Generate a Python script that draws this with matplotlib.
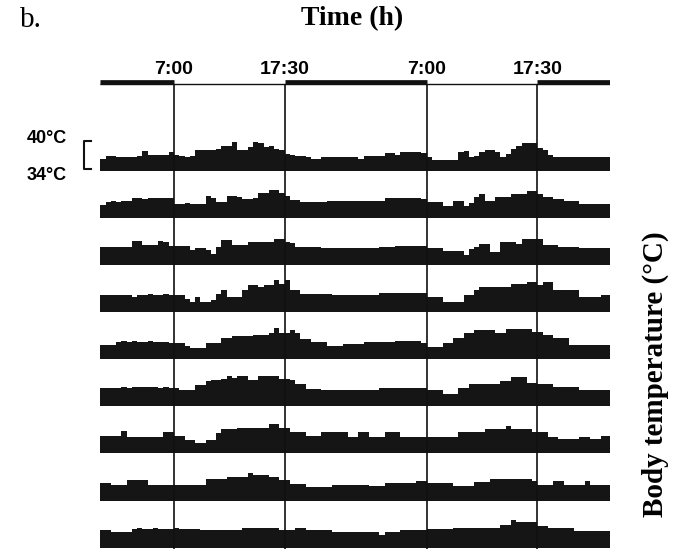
import numpy as np
import matplotlib
matplotlib.use("Agg")
import matplotlib.pyplot as plt

# half-hour mean body temperature (deg C), 96 bins over 48 h, one list per day
day1 = [36.1, 36.7, 36.7, 36.4, 36.4, 36.5, 36.4, 36.7, 37.7, 37.0, 37.0, 37.0,
        37.0, 37.6, 37.0, 36.7, 36.4, 36.7, 37.9, 38.1, 38.1, 38.1, 38.3, 38.9,
        38.9, 39.7, 38.1, 38.1, 38.6, 39.7, 39.4, 38.6, 38.9, 38.3, 37.9, 37.2,
        36.9, 36.7, 36.7, 36.5, 36.1, 36.1, 36.6, 36.6, 36.6, 36.6, 36.6, 36.5,
        36.5, 36.1, 36.7, 36.7, 36.7, 36.7, 37.4, 37.4, 36.9, 37.6, 37.6, 37.6,
        37.6, 37.4, 36.4, 35.9, 35.9, 35.9, 35.8, 35.8, 37.6, 37.7, 36.5, 36.7,
        37.6, 37.9, 37.9, 37.6, 36.5, 37.2, 38.3, 38.9, 39.4, 39.4, 39.4, 38.4,
        37.9, 36.9, 36.5, 36.4, 36.5, 36.4, 36.5, 36.5, 36.4, 36.5, 36.5, 36.5]
day2 = [36.4, 36.9, 37.1, 37.0, 37.2, 37.1, 37.9, 37.9, 37.6, 37.9, 37.9, 37.9,
        37.9, 37.9, 36.6, 36.6, 36.7, 36.6, 36.5, 36.6, 38.2, 37.9, 36.9, 36.9,
        38.2, 38.2, 38.0, 37.6, 37.6, 37.9, 38.9, 38.9, 39.5, 39.5, 38.9, 38.2,
        37.4, 37.4, 36.9, 36.9, 36.9, 36.9, 36.9, 37.1, 37.1, 37.1, 37.1, 37.1,
        37.2, 37.2, 37.2, 37.2, 37.2, 37.2, 37.9, 37.8, 37.9, 37.9, 37.8, 37.9,
        37.9, 37.6, 36.9, 36.9, 36.9, 36.1, 36.1, 37.1, 37.1, 36.1, 36.8, 38.1,
        38.6, 37.1, 37.1, 38.1, 38.1, 38.1, 38.6, 38.6, 38.6, 39.3, 39.3, 38.6,
        38.1, 38.1, 37.5, 37.5, 37.1, 37.1, 37.1, 36.6, 36.6, 36.6, 36.6, 36.6]
day3 = [37.3, 37.4, 37.4, 37.3, 37.4, 37.4, 38.6, 38.6, 37.8, 37.8, 37.8, 38.6,
        38.4, 37.7, 37.7, 37.7, 37.7, 36.7, 37.2, 37.2, 36.7, 35.8, 37.4, 38.9,
        38.9, 37.8, 37.8, 37.8, 38.5, 38.5, 38.5, 38.5, 38.5, 39.2, 39.2, 38.5,
        38.3, 37.4, 37.4, 37.4, 37.4, 37.4, 37.2, 37.2, 37.2, 37.2, 37.2, 37.2,
        37.2, 37.2, 37.2, 37.2, 37.2, 37.4, 37.4, 37.4, 37.6, 37.6, 37.6, 37.6,
        37.6, 37.6, 37.1, 37.1, 37.1, 36.5, 36.5, 36.5, 36.5, 35.7, 37.0, 37.4,
        38.1, 38.1, 36.4, 36.4, 38.5, 38.5, 38.5, 38.1, 39.1, 39.1, 39.1, 39.1,
        37.9, 37.9, 37.9, 37.4, 37.4, 37.4, 37.4, 37.1, 37.1, 37.1, 37.1, 37.1]
day4 = [37.1, 37.1, 37.1, 37.2, 37.2, 37.1, 36.8, 37.2, 37.2, 37.3, 37.2, 37.2,
        37.3, 37.2, 37.2, 37.2, 36.4, 35.7, 36.8, 35.7, 35.7, 36.2, 37.5, 38.2,
        36.8, 36.8, 36.8, 38.2, 39.3, 39.3, 38.8, 39.3, 39.3, 40.4, 39.6, 40.4,
        38.2, 38.2, 37.5, 37.5, 37.5, 37.5, 37.5, 37.5, 37.1, 37.1, 37.1, 37.1,
        37.1, 37.1, 37.1, 37.1, 37.1, 37.7, 37.7, 37.7, 37.7, 37.7, 37.7, 37.7,
        37.7, 37.7, 36.8, 36.8, 36.8, 35.7, 35.7, 35.7, 35.7, 37.1, 37.1, 38.2,
        38.9, 38.9, 38.9, 38.9, 38.9, 38.9, 39.6, 39.6, 39.6, 40.0, 40.0, 39.3,
        40.0, 40.0, 38.2, 38.2, 38.2, 38.2, 38.2, 36.8, 36.8, 36.8, 36.8, 37.1]
day5 = [36.6, 36.6, 36.6, 37.3, 37.5, 37.3, 37.4, 37.3, 37.3, 37.5, 37.3, 37.3,
        37.3, 36.9, 36.9, 36.9, 36.4, 36.0, 35.9, 35.9, 36.9, 36.9, 36.9, 38.0,
        38.0, 38.4, 38.4, 38.4, 38.4, 38.7, 38.7, 38.7, 39.2, 40.1, 39.2, 39.2,
        39.8, 39.1, 37.8, 37.8, 37.1, 37.1, 37.1, 36.4, 36.4, 36.4, 36.8, 36.8,
        36.8, 36.8, 37.3, 37.3, 37.3, 37.3, 37.3, 37.3, 37.5, 37.5, 37.5, 37.5,
        37.5, 36.9, 36.2, 36.2, 36.2, 36.9, 36.9, 38.0, 38.0, 39.1, 39.1, 39.8,
        39.8, 39.8, 39.8, 39.1, 39.1, 39.9, 39.9, 39.9, 39.9, 39.9, 39.4, 39.4,
        38.7, 38.7, 38.0, 38.0, 38.0, 36.6, 36.6, 36.6, 36.6, 36.6, 36.6, 36.6]
day6 = [37.4, 37.4, 37.4, 37.4, 37.6, 37.5, 37.6, 37.6, 37.7, 37.6, 37.6, 37.5,
        37.6, 37.4, 37.4, 37.1, 37.1, 37.1, 38.0, 38.0, 39.0, 39.2, 39.2, 39.4,
        39.9, 39.6, 39.9, 39.9, 39.2, 39.2, 39.9, 39.9, 39.9, 39.9, 39.4, 39.4,
        39.2, 38.3, 38.3, 37.3, 37.3, 37.3, 37.1, 37.1, 37.1, 37.1, 37.1, 37.1,
        37.1, 37.1, 37.1, 37.1, 37.1, 37.4, 37.4, 37.4, 37.4, 37.4, 37.4, 37.4,
        37.4, 37.4, 37.1, 37.1, 37.1, 36.2, 36.2, 36.2, 37.4, 37.4, 38.3, 38.3,
        38.3, 38.3, 38.3, 38.3, 39.0, 39.0, 39.7, 39.7, 39.7, 38.6, 38.6, 38.3,
        38.3, 38.3, 37.6, 37.6, 37.6, 37.6, 37.6, 37.1, 37.1, 37.1, 37.1, 37.1]
day7 = [37.3, 37.3, 37.3, 37.3, 38.3, 37.1, 37.1, 37.1, 37.1, 37.1, 37.1, 37.1,
        38.2, 38.2, 37.3, 37.3, 36.4, 36.4, 35.7, 35.7, 36.4, 36.4, 37.9, 38.7,
        38.7, 38.7, 38.9, 38.9, 38.9, 38.9, 38.9, 38.9, 39.8, 39.8, 38.9, 38.9,
        38.2, 38.2, 38.2, 37.3, 37.3, 37.3, 38.0, 38.0, 38.0, 38.0, 38.0, 37.1,
        37.1, 38.0, 38.0, 37.1, 37.1, 37.1, 38.0, 38.0, 38.0, 37.1, 37.1, 37.1,
        37.1, 37.1, 37.1, 37.1, 37.1, 37.1, 37.1, 37.1, 38.0, 38.0, 38.0, 38.0,
        38.0, 38.7, 38.7, 38.7, 38.7, 39.4, 38.7, 38.7, 38.7, 38.7, 38.0, 38.0,
        38.0, 37.1, 37.1, 36.6, 36.6, 36.6, 36.6, 37.1, 37.1, 36.5, 36.5, 37.3]
day8 = [37.3, 37.3, 36.9, 36.9, 36.9, 37.8, 37.8, 37.8, 37.8, 36.9, 36.9, 36.9,
        36.9, 36.9, 36.9, 36.9, 36.9, 36.9, 36.9, 36.9, 38.1, 38.1, 38.1, 38.1,
        38.6, 38.6, 38.6, 38.6, 39.4, 38.9, 38.9, 38.9, 38.5, 38.5, 37.8, 37.8,
        37.1, 37.1, 37.1, 36.4, 36.4, 36.4, 36.4, 36.4, 36.9, 36.9, 36.9, 36.9,
        36.9, 36.9, 36.9, 36.7, 36.7, 36.7, 37.3, 37.3, 37.3, 37.3, 37.3, 37.3,
        37.6, 37.6, 37.3, 37.3, 37.3, 37.3, 37.3, 36.7, 36.7, 36.7, 36.7, 37.4,
        37.4, 37.4, 38.1, 38.1, 38.1, 38.1, 38.1, 38.1, 38.1, 38.1, 37.6, 36.9,
        36.9, 36.9, 37.6, 37.6, 36.9, 36.9, 36.9, 36.9, 37.6, 36.8, 36.8, 36.8]
day9 = [37.3, 37.3, 36.9, 36.9, 36.9, 36.9, 37.5, 37.6, 37.5, 37.5, 37.6, 37.5,
        37.5, 37.5, 37.6, 37.5, 37.5, 37.5, 37.5, 37.3, 37.3, 37.3, 37.3, 37.3,
        37.3, 37.3, 37.3, 37.8, 37.8, 37.8, 37.8, 37.8, 37.8, 37.8, 37.3, 37.3,
        37.3, 37.6, 37.6, 37.3, 37.3, 37.3, 37.3, 37.3, 36.9, 36.9, 36.9, 36.9,
        36.9, 36.9, 36.9, 36.8, 36.8, 36.1, 36.9, 36.9, 36.9, 37.3, 37.3, 37.3,
        37.3, 37.3, 37.5, 37.5, 37.5, 37.5, 37.5, 37.6, 37.6, 37.6, 37.6, 37.6,
        37.8, 37.8, 37.8, 37.8, 38.3, 38.3, 39.4, 38.9, 38.9, 38.9, 38.9, 38.2,
        38.2, 37.6, 37.6, 37.6, 37.6, 37.6, 37.1, 37.1, 37.1, 37.1, 37.1, 37.1]
days = [day1, day2, day3, day4, day5, day6, day7, day8, day9]

lights_on = [7.0, 31.0]
lights_off = [17.5, 41.5]
tick_pos = [7.0, 17.5, 31.0, 41.5]
tick_lab = ["7:00", "17:30", "7:00", "17:30"]
t_end = 48.4
t_floor = 33.5      # bottom of each trace
row_gap = 10.08     # vertical spacing between days, in deg C units

edges = np.arange(0, 48.5, 0.5)
edges[-1] = t_end

fig = plt.figure(figsize=(6.84, 5.49), dpi=100)
ax = fig.add_axes([100.3 / 684, 0, (610 - 100.3) / 684, 1 - 75 / 549])
ax.set_xlim(0, t_end)
ax.set_ylim(-80.94, 20.56)

for i, d in enumerate(days):
    base = -i * row_gap
    ax.stairs(np.array(d) - t_floor + base, edges, baseline=base,
              fill=True, color="#151515", lw=0)

# light/dark bar on top: thick = dark phase
bar_y = 18.7
ax.hlines(bar_y, 0, t_end, color="#111111", lw=1.0)
dark = [(0, lights_on[0]), (lights_off[0], lights_on[1]), (lights_off[1], t_end)]
for a, b in dark:
    ax.hlines(bar_y + 0.4, a, b, color="#111111", lw=3.4)

for t in lights_on + lights_off:
    ax.vlines(t, -82, bar_y, color="#111111", lw=1.2)

ax.xaxis.tick_top()
ax.set_xticks(tick_pos)
ax.set_xticklabels(tick_lab, fontfamily="Liberation Sans", fontweight="bold",
                   fontsize=14)
ax.tick_params(axis="x", length=0, pad=-2)
ax.set_yticks([])
for s in ax.spines.values():
    s.set_visible(False)

# scale bracket for the first trace
bx0, bx1 = -1.55, -0.9
ax.plot([bx1, bx0, bx0, bx1], [40 - t_floor, 40 - t_floor, 34 - t_floor, 34 - t_floor],
        color="#111111", lw=1.5, clip_on=False)
fig.text(47 / 684, 1 - 138 / 549, "40°C", ha="center", va="center",
         fontfamily="Liberation Sans", fontweight="bold", fontsize=13)
fig.text(47 / 684, 1 - 175 / 549, "34°C", ha="center", va="center",
         fontfamily="Liberation Sans", fontweight="bold", fontsize=13)

fig.text(20 / 684, 1 - 20 / 549, "b.", ha="left", va="center",
         fontfamily="Liberation Serif", fontsize=21)
fig.text(352 / 684, 1 - 19 / 549, "Time (h)", ha="center", va="center",
         fontfamily="Liberation Serif", fontweight="bold", fontsize=20)
fig.text(655 / 684, 1 - 374 / 549, "Body temperature (°C)", ha="center",
         va="center", rotation=90, fontfamily="Liberation Serif",
         fontweight="bold", fontsize=21)

fig.savefig("out.png", dpi=100)
